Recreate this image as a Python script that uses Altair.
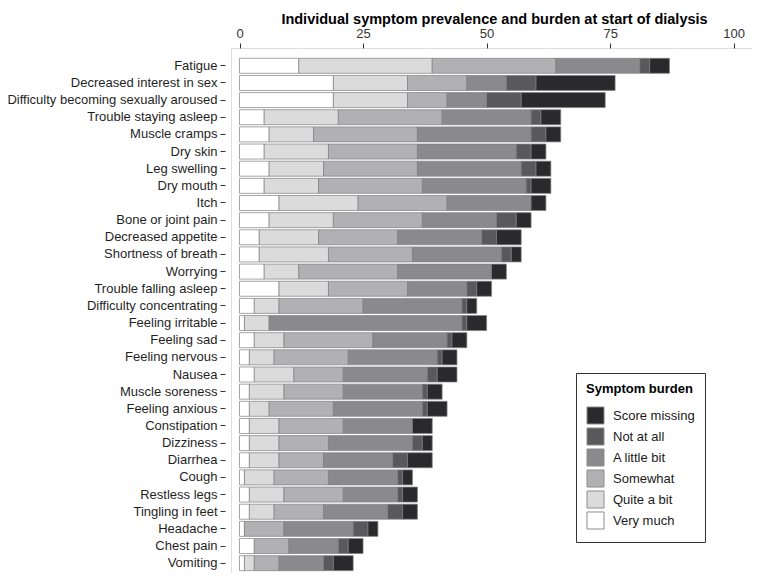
import altair as alt
import pandas as pd

symptoms = [
    "Fatigue", "Decreased interest in sex", "Difficulty becoming sexually aroused",
    "Trouble staying asleep", "Muscle cramps", "Dry skin", "Leg swelling", "Dry mouth",
    "Itch", "Bone or joint pain", "Decreased appetite", "Shortness of breath", "Worrying",
    "Trouble falling asleep", "Difficulty concentrating", "Feeling irritable", "Feeling sad",
    "Feeling nervous", "Nausea", "Muscle soreness", "Feeling anxious", "Constipation",
    "Dizziness", "Diarrhea", "Cough", "Restless legs", "Tingling in feet", "Headache",
    "Chest pain", "Vomiting",
]

very_much     = [12, 19, 19, 5, 6, 5, 6, 5, 8, 6, 4, 4, 5, 8, 3, 1, 3, 2, 3, 2, 2, 2, 2, 2, 1, 2, 2, 1, 3, 1]
quite_a_bit   = [27, 15, 15, 15, 9, 13, 11, 11, 16, 13, 12, 14, 7, 10, 5, 5, 6, 5, 8, 7, 4, 6, 6, 6, 6, 7, 5, 0, 0, 2]
somewhat      = [25, 12, 8, 21, 21, 18, 19, 21, 18, 18, 16, 17, 20, 16, 17, 0, 18, 15, 10, 12, 13, 13, 10, 9, 11, 12, 10, 8, 7, 5]
a_little_bit  = [17, 8, 8, 18, 23, 20, 21, 21, 17, 15, 17, 18, 19, 12, 20, 39, 15, 18, 17, 16, 18, 14, 17, 14, 14, 11, 13, 14, 10, 9]
not_at_all    = [2, 6, 7, 2, 3, 3, 3, 1, 0, 4, 3, 2, 0, 2, 1, 1, 1, 1, 2, 1, 1, 0, 2, 3, 1, 1, 3, 3, 2, 2]
score_missing = [4, 16, 17, 4, 3, 3, 3, 4, 3, 3, 5, 2, 3, 3, 2, 4, 3, 3, 4, 3, 4, 4, 2, 5, 2, 3, 3, 2, 3, 4]

categories = ["Very much", "Quite a bit", "Somewhat", "A little bit", "Not at all", "Score missing"]
series = [very_much, quite_a_bit, somewhat, a_little_bit, not_at_all, score_missing]
cat_colors = ["#ffffff", "#dbdbdc", "#b1b1b3", "#8a8a8c", "#59595b", "#2a292b"]

grid_values = [0, 12.5, 25, 37.5, 50, 62.5, 75, 87.5, 100]

rows = []
for i, s in enumerate(symptoms):
    for k, (cat, vals) in enumerate(zip(categories, series)):
        if vals[i] > 0:
            rows.append({"symptom": s, "burden": cat, "value": vals[i], "order": k})
df = pd.DataFrame(rows)

legend_domain = list(reversed(categories))
legend_range = list(reversed(cat_colors))

FONT = "Liberation Sans"

chart = alt.Chart(df).mark_bar(stroke="#7f7f7f", strokeWidth=0.7).encode(
    y=alt.Y(
        "symptom:N", sort=symptoms, title=None,
        scale=alt.Scale(paddingInner=0.125, paddingOuter=0.368, align=0.815),
        axis=alt.Axis(
            domain=False, grid=False, tickSize=5, tickColor="#333333", tickWidth=1,
            offset=6, labelPadding=3, labelFont=FONT, labelFontSize=13,
            labelColor="#1f1f1f", labelLimit=300,
        ),
    ),
    x=alt.X(
        "value:Q", stack="zero", title=None,
        scale=alt.Scale(domain=[-1.72, 103.7], nice=False, zero=False),
        axis=alt.Axis(
            orient="top", values=grid_values, domain=False, grid=True,
            gridColor="#ffffff", gridWidth=1, tickSize=5, tickWidth=1,
            tickColor={"condition": {"test": "datum.value % 25 === 0", "value": "#333333"},
                       "value": "transparent"},
            labelExpr="datum.value % 25 === 0 ? format(datum.value, 'd') : ''",
            labelPadding=3, labelFont=FONT, labelFontSize=13, labelColor="#333333",
        ),
    ),
    color=alt.Color(
        "burden:N",
        scale=alt.Scale(domain=legend_domain, range=legend_range),
        legend=alt.Legend(
            title="Symptom burden", orient="none", legendX=345, legendY=325,
            fillColor="#ffffff", strokeColor="#333333", padding=10,
            symbolType="square", symbolSize=290, symbolStrokeColor="#8c8c8c",
            symbolStrokeWidth=1, symbolOpacity=1, labelFont=FONT, labelFontSize=13,
            labelColor="#1a1a1a", titleFont=FONT, titleFontSize=13,
            titleFontWeight="bold", titleColor="#000000", rowPadding=-2,
            titlePadding=10, labelOffset=8,
        ),
    ),
    order=alt.Order("order:Q", sort="ascending"),
).properties(
    width=521,
    height=525,
    title=alt.TitleParams(
        "Individual symptom prevalence and burden at start of dialysis",
        font=FONT, fontSize=14.5, fontWeight="bold", color="#000000",
        anchor="middle", frame="group", offset=0, dx=3,
    ),
    autosize=alt.AutoSizeParams(type="none"),
    padding={"left": 223, "top": 40, "right": 0, "bottom": 0},
).configure_view(
    fill="#e5e5e5", strokeWidth=0
).configure(background="#ffffff")

chart.save("out.html", embed_options={"renderer": "svg", "actions": False})
